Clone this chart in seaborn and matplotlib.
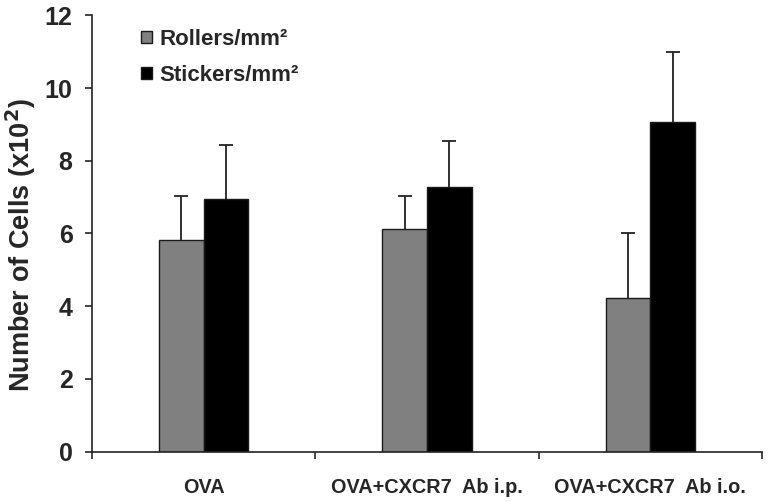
import pandas as pd
import matplotlib.pyplot as plt
import seaborn as sns
from matplotlib.ticker import FixedLocator

# values (x10^2 cells)
groups = ['OVA', 'OVA+CXCR7  Ab i.p.', 'OVA+CXCR7  Ab i.o.']
series = ['Rollers/mm²', 'Stickers/mm²']
rollers = [5.83, 6.13, 4.22]
stickers = [6.95, 7.28, 9.07]
rollers_err = [1.19, 0.89, 1.78]
stickers_err = [1.47, 1.27, 1.91]
yticks = [0, 2, 4, 6, 8, 10, 12]

df = pd.DataFrame({
    'group': groups * 2,
    'series': [series[0]] * 3 + [series[1]] * 3,
    'value': rollers + stickers,
})

sns.set_style('ticks')
plt.rcParams['font.family'] = ['Liberation Sans', 'DejaVu Sans']
plt.rcParams['font.weight'] = 'bold'

fig = plt.figure(figsize=(7.69, 5.01), dpi=100)
ax = fig.add_axes([0.1196, 0.0984, 0.8714, 0.8711])

sns.barplot(data=df, x='group', y='value', hue='series', order=groups,
            hue_order=series, palette=['#808080', '#000000'], width=0.4,
            edgecolor='#1a1a1a', linewidth=1.0, errorbar=None, ax=ax)

# upper-only error bars on top of each bar
for cont, errs in zip(ax.containers, [rollers_err, stickers_err]):
    xs = [p.get_x() + p.get_width() / 2 for p in cont]
    hs = [p.get_height() for p in cont]
    eb = ax.errorbar(xs, hs, yerr=[[0] * len(errs), errs], fmt='none',
                     ecolor='#222222', elinewidth=1.3, capsize=5, capthick=1.3)
    eb[1][0].set_visible(False)  # drop the lower cap

ax.set_ylim(0, 12)
ax.set_xlim(-0.5, 2.5)
ax.set_yticks(yticks)
ax.set_yticklabels([str(t) for t in yticks], fontsize=18, fontweight='bold')
ax.set_xticks(range(3))
ax.set_xticklabels(groups, fontsize=14.3, fontweight='bold')
ax.tick_params(axis='x', which='major', length=0, pad=19)
ax.xaxis.set_minor_locator(FixedLocator([-0.5, 0.5, 1.5, 2.5]))
ax.tick_params(axis='x', which='minor', length=5, width=1.2, direction='out')
ax.tick_params(axis='y', length=5, width=1.2, direction='out', pad=9)
ax.set_xlabel('')
ax.set_ylabel('Number of Cells (x10$^2$)', fontsize=19.5, fontweight='bold')
ax.yaxis.set_label_coords(-0.081, 0.474)
for s in ['left', 'bottom']:
    ax.spines[s].set_linewidth(1.2)
    ax.spines[s].set_color('#222222')
sns.despine(ax=ax)

ax.legend(loc='upper left', bbox_to_anchor=(0.043, 1.015), frameon=False,
          prop={'size': 16, 'weight': 'bold'}, handlelength=0.5,
          handleheight=0.5, handletextpad=0.35, labelspacing=0.68)

plt.savefig('out.png', dpi=100)
